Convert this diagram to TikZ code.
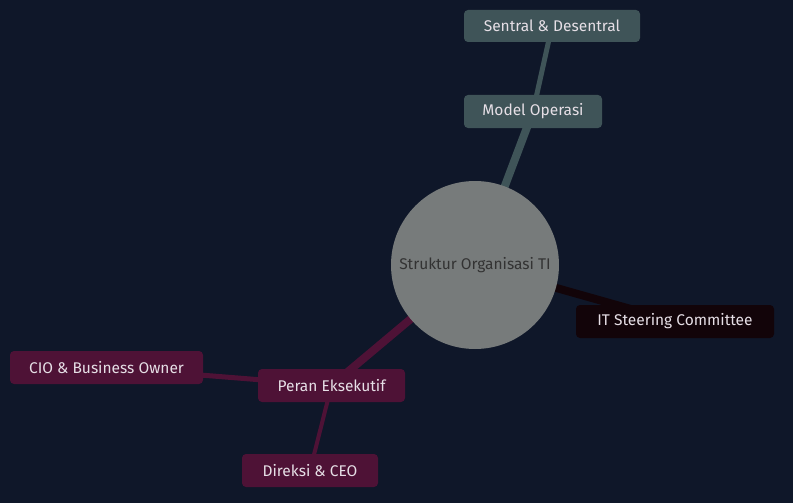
\documentclass[tikz,border=0pt]{standalone}
\usepackage{fontspec}
\setmainfont{Fira Sans}
\usepackage{xcolor}
\usetikzlibrary{positioning, backgrounds}

\definecolor{bgnavy}{HTML}{0F1729}
\definecolor{rootgray}{HTML}{777B7B}
\definecolor{slatefill}{HTML}{3F5458}
\definecolor{darkfill}{HTML}{120409}
\definecolor{plumfill}{HTML}{4E1236}
\definecolor{leaftext}{HTML}{E6DFE6}

\pgfdeclarelayer{edgelayer}
\pgfsetlayers{background,edgelayer,main}

\begin{document}
\begin{tikzpicture}[x=1pt, y=-1pt,
    every node/.style={font=\fontsize{15.5}{18}\selectfont},
    topic/.style={rectangle, rounded corners=4pt, inner sep=0pt, minimum height=33pt, text=leaftext},
    link/.style={line cap=round}]
    % Background
    \begin{pgfonlayer}{background}
        \fill[bgnavy] (0,0) rectangle (793,503);
    \end{pgfonlayer}
    \useasboundingbox (0,0) rectangle (793,503);

    % Root
    \node[circle, fill=rootgray, minimum size=168pt, inner sep=0pt, text=black!80] (root) at (475,265) {Struktur Organisasi TI};

    % Branches
    \node[topic, fill=slatefill, minimum width=138pt] (model) at (533,111.5) {Model Operasi};
    \node[topic, fill=slatefill, minimum width=176pt, minimum height=32pt] (sentral) at (552,26) {Sentral \& Desentral};
    \node[topic, fill=darkfill, minimum width=198pt] (steer) at (675,321.5) {IT Steering Committee};
    \node[topic, fill=plumfill, minimum width=147pt] (peran) at (331.5,385.5) {Peran Eksekutif};
    \node[topic, fill=plumfill, minimum width=193pt] (cio) at (106.5,367.5) {CIO \& Business Owner};
    \node[topic, fill=plumfill, minimum width=136pt] (direksi) at (310,470.5) {Direksi \& CEO};

    % Connectors
    \begin{pgfonlayer}{edgelayer}
        \draw[link, slatefill, line width=8pt] (root.center) -- (model.center);
        \draw[link, slatefill, line width=5pt] (model.center) -- (sentral.center);
        \draw[link, darkfill, line width=8pt] (root.center) -- (steer.center);
        \draw[link, plumfill, line width=8pt] (root.center) -- (peran.center);
        \draw[link, plumfill, line width=5pt] (peran.center) -- (cio.center);
        \draw[link, plumfill, line width=4pt] (peran.center) -- (direksi.center);
    \end{pgfonlayer}
\end{tikzpicture}
\end{document}
